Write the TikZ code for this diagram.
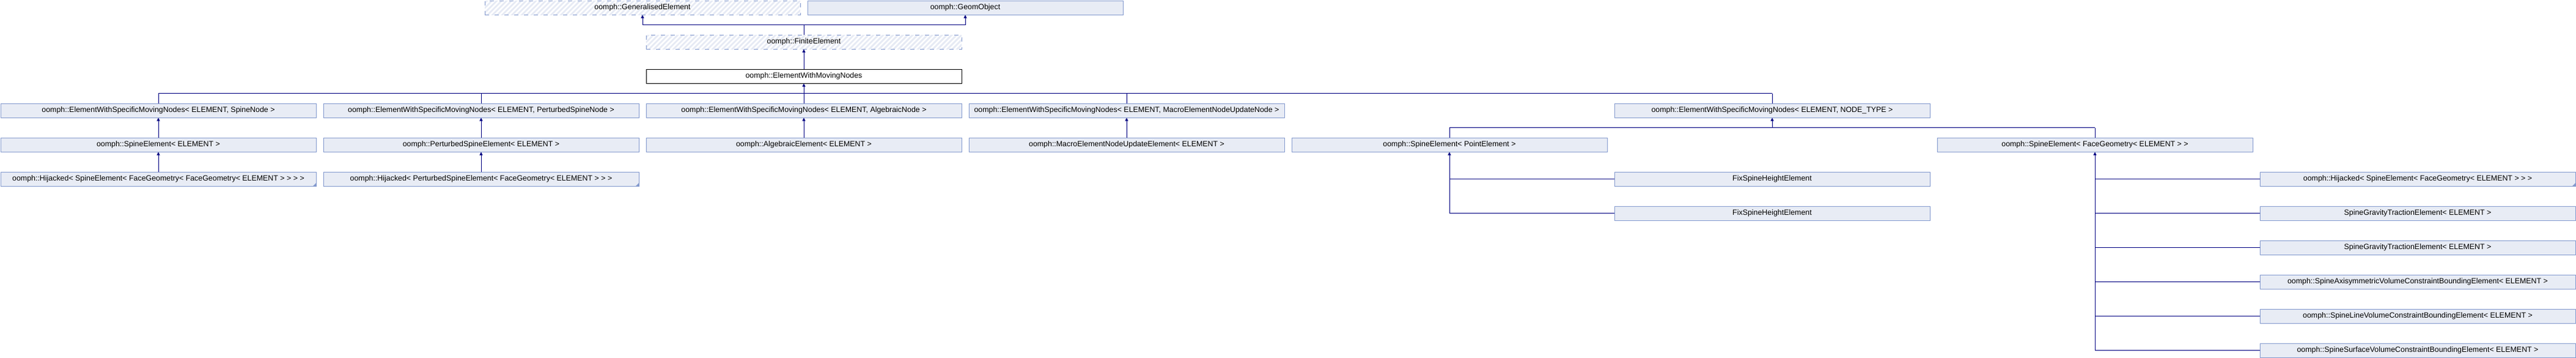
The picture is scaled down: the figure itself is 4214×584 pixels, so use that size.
\documentclass[tikz,border=0pt]{standalone}
\usepackage{fontspec}
\setmainfont{Liberation Sans}
\usetikzlibrary{arrows.meta}
\definecolor{boxfill}{RGB}{232,236,245}
\definecolor{boxline}{RGB}{132,154,206}
\definecolor{edgec}{RGB}{0,0,128}
\definecolor{hatchc}{RGB}{230,234,244}
\tikzset{
  cls/.style={draw=boxline, fill=boxfill, line width=1pt, minimum width=516pt,
    minimum height=23pt, inner sep=0pt, font=\fontsize{12.4}{14}\selectfont},
  undoc/.style={cls, fill=white, dash pattern=on 7pt off 9pt,
    path picture={\foreach \i in {0,8,...,560}{\draw[solid, line width=2.8pt, hatchc]
      ([xshift=\i pt-40pt,yshift=-5pt]path picture bounding box.south west) -- ++(36pt,36pt);}}},
  current/.style={cls, fill=white, draw=black, line width=1pt},
  edge/.style={draw=edgec, line width=1pt},
  inh/.style={edge, -{Triangle[width=5pt,length=5pt]}},
  trunc/.style={fill=boxline},
}
\begin{document}
\begin{tikzpicture}[x=1pt,y=1pt]
\useasboundingbox (0,0) rectangle (4214,-584);
% rows
\node[undoc] (ge) at (1051,-12.5) {oomph::GeneralisedElement};
\node[cls] (go) at (1579,-12.5) {oomph::GeomObject};
\node[undoc] (fe) at (1315,-68.5) {oomph::FiniteElement};
\node[current] (ewmn) at (1315,-124.5) {oomph::ElementWithMovingNodes};
\node[cls] (sn) at (259,-180.5) {oomph::ElementWithSpecificMovingNodes< ELEMENT, SpineNode >};
\node[cls] (psn) at (787,-180.5) {oomph::ElementWithSpecificMovingNodes< ELEMENT, PerturbedSpineNode >};
\node[cls] (an) at (1315,-180.5) {oomph::ElementWithSpecificMovingNodes< ELEMENT, AlgebraicNode >};
\node[cls] (mn) at (1843,-180.5) {oomph::ElementWithSpecificMovingNodes< ELEMENT, MacroElementNodeUpdateNode >};
\node[cls] (nt) at (2899,-180.5) {oomph::ElementWithSpecificMovingNodes< ELEMENT, NODE\_TYPE >};
\node[cls] (se) at (259,-236.5) {oomph::SpineElement< ELEMENT >};
\node[cls] (pse) at (787,-236.5) {oomph::PerturbedSpineElement< ELEMENT >};
\node[cls] (ae) at (1315,-236.5) {oomph::AlgebraicElement< ELEMENT >};
\node[cls] (me) at (1843,-236.5) {oomph::MacroElementNodeUpdateElement< ELEMENT >};
\node[cls] (sep) at (2371,-236.5) {oomph::SpineElement< PointElement >};
\node[cls] (sef) at (3427,-236.5) {oomph::SpineElement< FaceGeometry< ELEMENT > >};
\node[cls] (hse) at (259,-292.5) {oomph::Hijacked< SpineElement< FaceGeometry< FaceGeometry< ELEMENT > > > >};
\node[cls] (hpse) at (787,-292.5) {oomph::Hijacked< PerturbedSpineElement< FaceGeometry< ELEMENT > > >};
\node[cls] (fsha) at (2899,-292.5) {FixSpineHeightElement};
\node[cls] (fshb) at (2899,-348.5) {FixSpineHeightElement};
\node[cls] (hsef) at (3955,-292.5) {oomph::Hijacked< SpineElement< FaceGeometry< ELEMENT > > >};
\node[cls] (sgta) at (3955,-348.5) {SpineGravityTractionElement< ELEMENT >};
\node[cls] (sgtb) at (3955,-404.5) {SpineGravityTractionElement< ELEMENT >};
\node[cls] (sav) at (3955,-460.5) {oomph::SpineAxisymmetricVolumeConstraintBoundingElement< ELEMENT >};
\node[cls] (slv) at (3955,-516.5) {oomph::SpineLineVolumeConstraintBoundingElement< ELEMENT >};
\node[cls] (ssv) at (3955,-572.5) {oomph::SpineSurfaceVolumeConstraintBoundingElement< ELEMENT >};
% truncation marks
\foreach \n in {hse,hpse,hsef}{\fill[trunc] (\n.south east) -- ++(-6pt,0pt) -- ++(6pt,6pt) -- cycle;}
% bar coordinates
\coordinate (ba) at (0,-40.5);
\coordinate (bb) at (0,-152.5);
\coordinate (bc) at (0,-208.5);
% FiniteElement -> parents
\draw[edge] (fe.north) -- (fe.north |- ba);
\draw[edge] (ge.south |- ba) -- (go.south |- ba);
\draw[inh] (ge.south |- ba) -- (ge.south);
\draw[inh] (go.south |- ba) -- (go.south);
\draw[inh] (ewmn.north) -- (fe.south);
% ElementWithMovingNodes -> children
\draw[edge] (sn.north |- bb) -- (nt.north |- bb);
\draw[inh] (ewmn.south |- bb) -- (ewmn.south);
\foreach \n in {sn,psn,an,mn,nt}{\draw[edge] (\n.north) -- (\n.north |- bb);}
% chains
\draw[inh] (se.north) -- (sn.south);
\draw[inh] (pse.north) -- (psn.south);
\draw[inh] (ae.north) -- (an.south);
\draw[inh] (me.north) -- (mn.south);
\draw[inh] (hse.north) -- (se.south);
\draw[inh] (hpse.north) -- (pse.south);
% NODE_TYPE -> children
\draw[edge] (sep.north |- bc) -- (sef.north |- bc);
\draw[inh] (nt.south |- bc) -- (nt.south);
\foreach \n in {sep,sef}{\draw[edge] (\n.north) -- (\n.north |- bc);}
% SpineElement<PointElement> -> FixSpineHeightElement
\draw[inh] (sep.south |- fshb.west) -- (sep.south);
\foreach \n in {fsha,fshb}{\draw[edge] (sep.south |- \n.west) -- (\n.west);}
% SpineElement<FaceGeometry> -> children
\draw[inh] (sef.south |- ssv.west) -- (sef.south);
\foreach \n in {hsef,sgta,sgtb,sav,slv,ssv}{\draw[edge] (sef.south |- \n.west) -- (\n.west);}
\end{tikzpicture}
\end{document}
